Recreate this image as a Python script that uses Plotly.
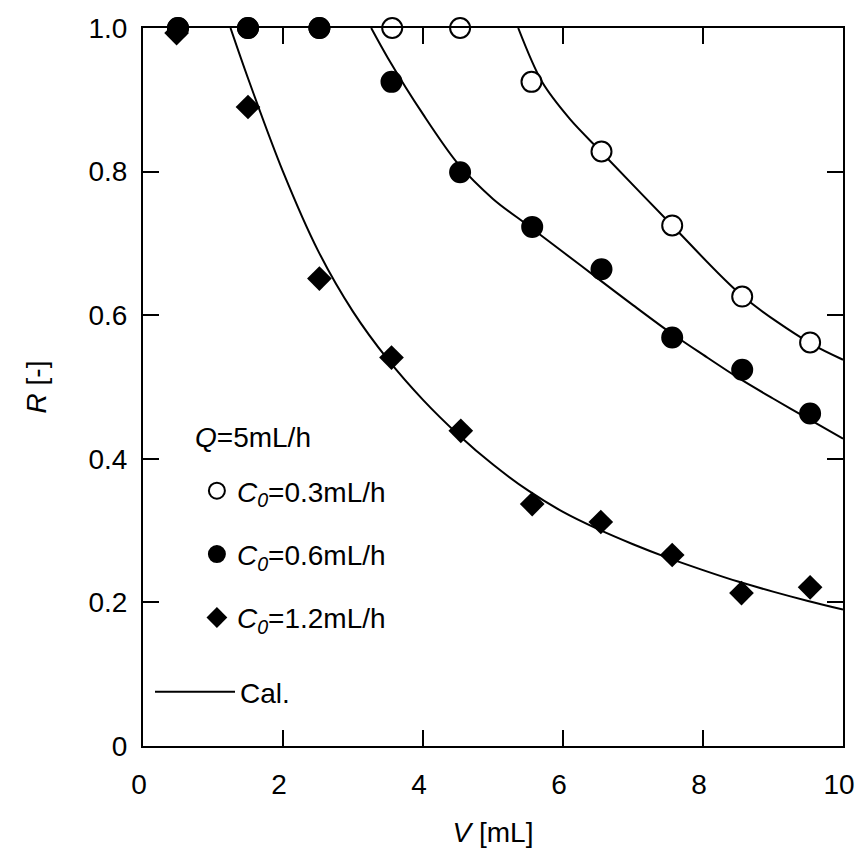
import plotly.graph_objects as go

# ---- data ----
v_c03 = [0.5, 1.5, 2.52, 3.56, 4.53, 5.55, 6.55, 7.56, 8.56, 9.53]
r_c03 = [1.0, 1.0, 1.0, 1.0, 1.0, 0.925, 0.828, 0.725, 0.626, 0.562]

v_c06 = [0.5, 1.5, 2.52, 3.55, 4.53, 5.56, 6.55, 7.56, 8.56, 9.53]
r_c06 = [1.0, 1.0, 1.0, 0.925, 0.799, 0.723, 0.664, 0.569, 0.524, 0.463]

v_c12 = [0.48, 1.5, 2.52, 3.55, 4.54, 5.56, 6.54, 7.56, 8.55, 9.53]
r_c12 = [0.993, 0.890, 0.651, 0.541, 0.439, 0.337, 0.312, 0.266, 0.213, 0.221]

# calculated curves
cal_v03 = [5.36, 5.7, 6.1, 6.55, 7.56, 8.56, 9.53, 10.0]
cal_r03 = [1.0, 0.925, 0.873, 0.827, 0.725, 0.627, 0.561, 0.538]

cal_v06 = [3.26, 3.5, 4.0, 4.5, 5.0, 5.5, 6.0, 6.5, 7.0, 7.5, 8.0, 8.5, 9.0, 9.5, 10.0]
cal_r06 = [1.0, 0.958, 0.880, 0.811, 0.762, 0.725, 0.688, 0.651, 0.614, 0.578, 0.545, 0.513, 0.484, 0.456, 0.428]

cal_v12 = [1.25, 1.5, 2.0, 2.5, 3.0, 3.5, 4.0, 4.5, 5.0, 5.5, 6.0, 6.5, 7.0, 7.5, 8.0, 8.5, 9.0, 9.5, 10.0]
cal_r12 = [1.0, 0.93, 0.80, 0.69, 0.605, 0.538, 0.482, 0.434, 0.392, 0.356, 0.326, 0.302, 0.281, 0.262, 0.245, 0.229, 0.215, 0.202, 0.190]

x_ticks = [0, 2, 4, 6, 8, 10]
x_ticktext = ["0", "2", "4", "6", "8", "10"]
y_ticks = [0, 0.2, 0.4, 0.6, 0.8, 1.0]
y_ticktext = ["0", "0.2", "0.4", "0.6", "0.8", "1.0"]

FONT = "Liberation Sans, Arial, sans-serif"
FS = 28

fig = go.Figure()

for i, (cv, cr) in enumerate([(cal_v12, cal_r12), (cal_v06, cal_r06), (cal_v03, cal_r03)]):
    fig.add_trace(go.Scatter(
        x=cv, y=cr, mode="lines", line=dict(color="black", width=2, shape="spline", smoothing=0.9),
        name="Cal.", showlegend=(i == 0), legend="legend2", hoverinfo="skip", cliponaxis=False))

fig.add_trace(go.Scatter(
    x=v_c03, y=r_c03, mode="markers", name="<i>C<sub>0</sub></i>=0.3mL/h",
    marker=dict(symbol="circle", size=20, color="white", line=dict(color="black", width=2)),
    legendgroup="a", cliponaxis=False))
fig.add_trace(go.Scatter(
    x=v_c06, y=r_c06, mode="markers", name="<i>C<sub>0</sub></i>=0.6mL/h",
    marker=dict(symbol="circle", size=20, color="black", line=dict(color="black", width=2)),
    legendgroup="b", cliponaxis=False))
fig.add_trace(go.Scatter(
    x=v_c12, y=r_c12, mode="markers", name="<i>C<sub>0</sub></i>=1.2mL/h",
    marker=dict(symbol="diamond", size=19, color="black", line=dict(color="black", width=0)),
    legendgroup="c", cliponaxis=False))

axis_common = dict(
    showline=True, linecolor="black", linewidth=2, mirror="allticks",
    ticks="inside", ticklen=16, tickwidth=2, tickcolor="black",
    showgrid=False, zeroline=False, ticklabeloverflow="allow", automargin=False,
    tickfont=dict(family=FONT, size=FS, color="black"),
)

fig.update_xaxes(range=[0, 10], tickvals=x_ticks, ticktext=x_ticktext, **axis_common,
                 ticklabelstandoff=12, ticklabelshift=-4,
                 title=dict(text="<i>V</i> [mL]", font=dict(family=FONT, size=FS, color="black"), standoff=24))
fig.update_yaxes(range=[0, 1], tickvals=y_ticks, ticktext=y_ticktext, **axis_common,
                 ticklabelstandoff=8,
                 title=dict(text="<i>R</i> [-]", font=dict(family=FONT, size=FS, color="black"), standoff=34))

fig.update_layout(
    width=856, height=859,
    margin=dict(l=143, r=13, t=28, b=113, autoexpand=False),
    plot_bgcolor="white", paper_bgcolor="white",
    font=dict(family=FONT, size=FS, color="black"),
    legend=dict(x=0.077, y=0.390, xanchor="left", yanchor="top",
                bgcolor="rgba(0,0,0,0)", borderwidth=0, tracegroupgap=24,
                font=dict(family=FONT, size=FS, color="black")),
    legend2=dict(x=0.01, y=0.110, xanchor="left", yanchor="top", itemwidth=80,
                 bgcolor="rgba(0,0,0,0)", borderwidth=0,
                 font=dict(family=FONT, size=FS, color="black")),
    annotations=[dict(text="<i>Q</i>=5mL/h", xref="paper", yref="paper",
                      x=0.0714, y=0.429, xanchor="left", yanchor="middle",
                      showarrow=False, font=dict(family=FONT, size=FS, color="black"))],
)

fig.write_html("out.html", config={"displayModeBar": False},
               post_script="document.body.style.margin='0px';document.body.style.overflow='hidden';")
